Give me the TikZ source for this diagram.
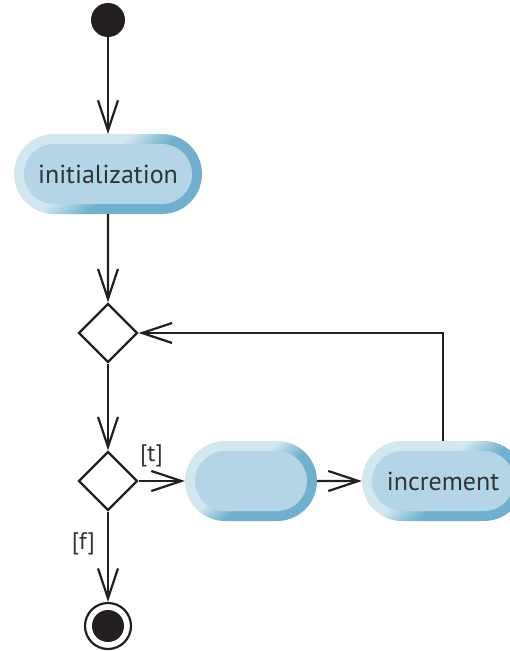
\documentclass[tikz,border=0pt]{standalone}
\usepackage{fontspec}
\setmainfont{PT Sans}
\usetikzlibrary{arrows.meta,positioning,calc,shapes.geometric,shapes.misc}
\definecolor{rimlight}{HTML}{D3E7F1}
\definecolor{rimdark}{HTML}{6FB0CE}
\definecolor{pillfill}{HTML}{B3D5E6}
\definecolor{ink}{HTML}{231F20}
\definecolor{txt}{HTML}{333333}
\pgfdeclareverticalshading{bevel}{100bp}{color(0bp)=(rimdark); color(44bp)=(rimdark); color(56bp)=(rimlight); color(100bp)=(rimlight)}

\begin{document}
\begin{tikzpicture}[x=1pt, y=-1pt,
  flow/.style={ink, line width=2.2pt, -{Straight Barb[length=30pt, width=20pt]}},
  activity/.style={rounded rectangle, minimum height=80pt, inner sep=0pt,
    shading=bevel, shading angle=40,
    path picture={\fill[pillfill, rounded corners=30pt]
      ($(path picture bounding box.south west)+(10pt,10pt)$) rectangle
      ($(path picture bounding box.north east)+(-10pt,-10pt)$);},
    font=\fontsize{26}{30}\selectfont, text=txt},
  decision/.style={diamond, draw=ink, line width=2.2pt, fill=white,
    minimum width=59pt, minimum height=59pt, inner sep=0pt},
  guard/.style={font=\fontsize{24}{28}\selectfont, text=txt, inner sep=2pt}]
  \useasboundingbox (0,0) rectangle (510,651);
  % start and end
  \node[circle, fill=ink, minimum size=34pt, inner sep=0pt] (start) at (108,20) {};
  \node[circle, draw=ink, line width=2.2pt, minimum size=46pt, inner sep=0pt,
    path picture={\fill[ink] (path picture bounding box.center) circle (16pt);}] (stop) at (108,626) {};
  % activities and decisions
  \node[activity, minimum width=188pt] (init) at (108,174) {initialization};
  \node[decision] (dec1) at (108,333) {};
  \node[decision] (dec2) at (108,481) {};
  \node[activity, minimum width=132pt] (body) at (251,481) {};
  \node[activity, minimum width=162pt] (incr) at (443,481) {increment};
  % flows
  \draw[flow] (start) -- (init);
  \draw[flow] (init) -- (dec1);
  \draw[flow] (dec1) -- (dec2);
  \draw[flow] (dec2) -- node[guard, pos=0.28, above=11pt] (tlab) {[t]} (body);
  \draw[flow] (body) -- (incr);
  \draw[flow] (incr.north) |- (dec1.east);
  \draw[flow] (dec2) -- node[guard, pos=0.36, left=10pt] (flab) {[f]} (stop);
\end{tikzpicture}
\end{document}
